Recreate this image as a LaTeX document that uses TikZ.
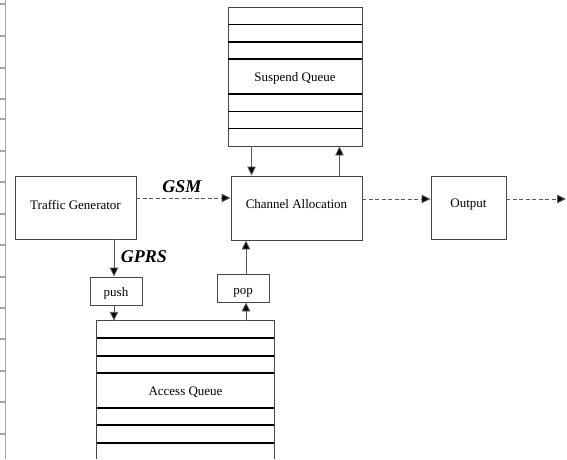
\documentclass[tikz,border=0pt]{standalone}
\usepackage{fontspec}
\setmainfont{Liberation Serif}
\usetikzlibrary{arrows.meta}
\newcommand{\up}[2]{\raisebox{#1}[\height][\depth]{#2}}
\begin{document}
\begin{tikzpicture}[x=1pt,y=-1pt,
  box/.style={draw=black!72,line width=0.9pt,rectangle,inner sep=0pt,
    font=\fontsize{13}{15}\selectfont},
  qline/.style={black,line width=1.3pt},
  arr/.style={draw=black!65,line width=0.9pt,-{Triangle[length=9pt,width=8.5pt,fill=black]}},
  darr/.style={arr,dash pattern=on 4pt off 2.5pt},
  lbl/.style={font=\fontsize{18}{20}\selectfont\bfseries\itshape,inner sep=0pt},
  ruler/.style={draw=black!35,line width=1.4pt}]
\useasboundingbox (0,0) rectangle (567,459);
% left ruler
\draw[ruler] (5.7,0) -- (5.7,459);
\foreach \yy in {4,36,68,99,119,151,182,214,245,277,308,339,371,402,434}
  \draw[ruler] (0,\yy) -- (5.7,\yy);
% boxes
\node[box,minimum width=121pt,minimum height=63pt] (tg) at (75.5,207.5) {\up{3pt}{Traffic Generator}};
\node[box,minimum width=131pt,minimum height=64pt] (ca) at (296.5,208) {\up{4pt}{Channel Allocation}};
\node[box,minimum width=75pt,minimum height=63pt] (out) at (468.5,207.5) {\up{3pt}{Output}};
\node[box,minimum width=52pt,minimum height=28pt] (push) at (116,291) {\up{-2pt}{push}};
\node[box,minimum width=52pt,minimum height=28pt] (pop) at (243,288) {\up{-5pt}{pop}};
% suspend queue
\node[box,minimum width=134pt,minimum height=139pt] (sq) at (295,76.5) {};
\foreach \yy in {24.5,42,59,94,111.5,128.5}
  \draw[qline] (228,\yy) -- (362,\yy);
\node[font=\fontsize{13}{15}\selectfont] (sqt) at (295,78) {Suspend Queue};
% access queue (open at the bottom)
\node[inner sep=0pt,minimum width=177pt,minimum height=138pt] (aq) at (185.5,390) {};
\draw[draw=black!72,line width=0.9pt] (aq.south west) -- (aq.north west) -- (aq.north east) -- (aq.south east);
\foreach \yy in {338,356,373,408,425,443}
  \draw[qline] (97,\yy) -- (274,\yy);
\node[font=\fontsize{13}{15}\selectfont] (aqt) at (185.5,392) {Access Queue};
% anchor points for vertical connectors
\coordinate (pushN) at ([xshift=-2pt]push.north);
\coordinate (pushS) at ([xshift=-2pt]push.south);
\coordinate (popN) at ([xshift=3pt]pop.north);
\coordinate (popS) at ([xshift=3pt]pop.south);
% connectors
\draw[arr] ([xshift=24pt]sq.south west) -- ([xshift=21pt]ca.north west);
\draw[arr] ([xshift=-23pt]ca.north east) -- ([xshift=-23pt]sq.south east);
\draw[darr] ([yshift=9.5pt]tg.east) -- ([yshift=10pt]ca.west);
\node[lbl] (gsm) at (182,187) {GSM};
\draw[arr] (tg.south -| pushN) -- (pushN);
\node[lbl] (gprs) at (144,257) {GPRS};
\draw[arr] (pushS) -- (aq.north -| pushS);
\draw[arr] (aq.north -| popS) -- (popS);
\draw[arr] (popN) -- (ca.south -| popN);
\draw[darr] ([yshift=9pt]ca.east) -- ([yshift=8.5pt]out.west);
\coordinate (end) at (566,199);
\draw[darr] ([yshift=8.5pt]out.east) -- (end);
\end{tikzpicture}
\end{document}
